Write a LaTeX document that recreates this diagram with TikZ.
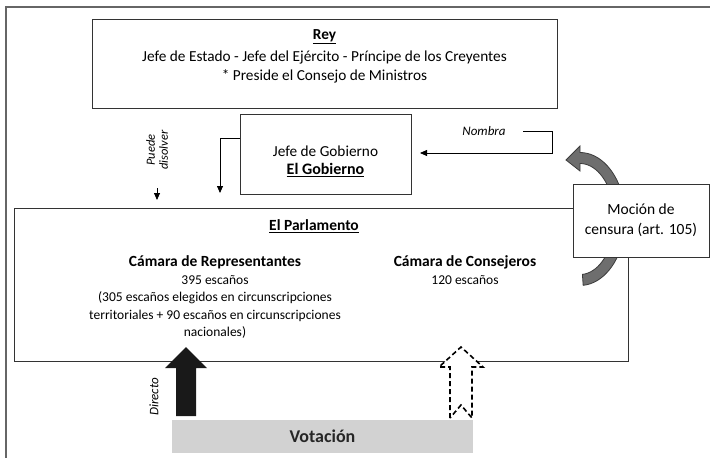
\documentclass[tikz,border=0pt]{standalone}
\usepackage{fontspec}
\setmainfont{Carlito}
\usetikzlibrary{arrows.meta,positioning}
\definecolor{grisv}{RGB}{210,210,210}
\definecolor{grisf}{RGB}{110,110,110}
\definecolor{grisb}{RGB}{60,60,60}
\newcommand{\titulo}[1]{{\fontsize{15.5}{17.7}\selectfont\bfseries #1}}

\begin{document}
\begin{tikzpicture}[x=1pt,y=-1pt,
    caja/.style={draw=black!80, line width=0.9pt, inner sep=0pt},
    txt/.style={align=center, font=\fontsize{13.5}{17.6}\selectfont},
    grande/.style={align=center, font=\fontsize{15.3}{18.5}\selectfont},
    nota/.style={align=center, font=\fontsize{13}{13.5}\selectfont\itshape},
    flecha/.style={-{Triangle[length=7pt,width=6pt]}, line width=0.8pt}]
    \useasboundingbox (0,0) rectangle (710,458);
    \draw[black!60, line width=1.2pt] (6,458) -- (6,7) -- (710,7);
    % Rey
    \node[caja, minimum width=465pt, minimum height=89pt] (rey) at (324.5,63.5) {};
    \node[grande, below=7pt of rey.north] (reytxt) {\textbf{\underline{Rey}}\\[4pt]Jefe de Estado - Jefe del Ejército - Príncipe de los Creyentes\\* Preside el Consejo de Ministros};
    % Gobierno
    \node[caja, minimum width=171pt, minimum height=80pt] (gob) at (325.5,154) {};
    \node[grande] (gobtxt) at ([yshift=-7pt]gob.center) {Jefe de Gobierno\\{\fontsize{16}{18.5}\selectfont\bfseries\underline{El Gobierno}}};
    % Parlamento
    \node[caja, minimum width=614pt, minimum height=153pt] (parl) at (321,284.5) {};
    \node[txt] (parltxt) at (314,226) {\titulo{\underline{El Parlamento}}};
    \node[txt, anchor=north] (rep) at (215,252) {\titulo{Cámara de Representantes}\\395 escaños\\(305 escaños elegidos en circunscripciones\\territoriales + 90 escaños en circunscripciones\\nacionales)};
    \node[txt, anchor=north] (cons) at (465,252) {\titulo{Cámara de Consejeros}\\120 escaños};
    % mocion de censura
    \fill[grisf, draw=grisb, line width=0.8pt] plot[domain=-86:90, samples=40] ({580+45.5*cos(\x)},{219-66.5*sin(\x)})
        -- (580,146) -- (566,160) -- (580,171)
        -- plot[domain=90:-86, samples=40] ({580+34.5*cos(\x)},{219-55.5*sin(\x)}) -- cycle;
    \node[caja, grande, font=\fontsize{15.5}{20}\selectfont, fill=white, minimum width=136pt, minimum height=73pt] (mocion) at (641,220.5) {Moción de\\censura (art. 105)};
    % Nombra
    \node[nota] (nombra) at (484,131) {Nombra};
    \coordinate (nom1) at (523,131);
    \coordinate (nom2) at (552,153);
    \coordinate (nom3) at (420,153);
    \draw[flecha] (nom1) -| (nom2) -- (nom3);
    % Puede disolver
    \coordinate (dis1) at (220,193);
    \draw[flecha] ([yshift=16pt]gob.west) -| (dis1);
    \node[nota, rotate=90, font=\fontsize{12.5}{13}\selectfont\itshape] (puede) at (157,150) {Puede\\disolver};
    \coordinate (dis2) at (157,200);
    \draw[flecha] ([yshift=-15pt]puede.west) -- (dis2);
    % Votacion
    \node[fill=grisv, minimum width=301pt, minimum height=33pt, text=black!85, font=\fontsize{18}{20}\selectfont\bfseries] (vot) at (322.5,436.5) {Votación};
    \fill[black!90] (176,416) -- ++(0,-48) -- ++(-11,0) -- ++(21,-21) -- ++(21,21) -- ++(-11,0) -- ++(0,48) -- cycle;
    \draw[fill=white, line width=1.6pt, dash pattern=on 5pt off 3pt] (450,418) -- ++(0,-51) -- ++(-11,0) -- ++(22,-20) -- ++(22,20) -- ++(-11,0) -- ++(0,51) -- ++(-11,-13) -- cycle;
    \node[nota, rotate=90] (directo) at (154,397) {Directo};
\end{tikzpicture}
\end{document}
